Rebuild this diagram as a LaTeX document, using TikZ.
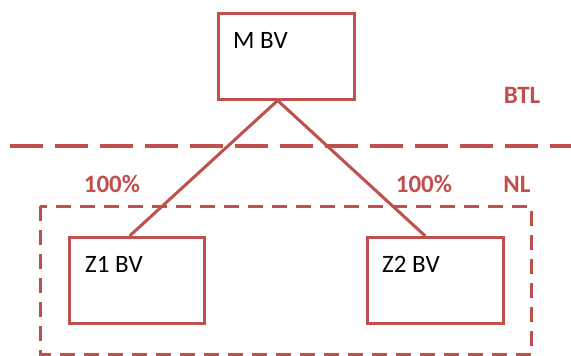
\documentclass[tikz,border=0pt]{standalone}
\usepackage{fontspec}
\setmainfont{Carlito}
\usetikzlibrary{calc}
\definecolor{accent}{HTML}{C0504D}
\tikzset{
  bvbox/.style={draw=accent, line width=3pt, rectangle, minimum width=#1, minimum height=86pt, inner sep=0pt},
  bvtext/.style={anchor=base west, inner sep=0pt, text=black, font=\fontsize{25}{30}\selectfont},
  tag/.style={inner sep=0pt, text=accent, font=\fontsize{25}{30}\selectfont\bfseries},
  link/.style={draw=accent, line width=3pt},
  layerline/.style={draw=accent, line width=3.5pt, dash pattern=on 33pt off 12pt},
  layerframe/.style={draw=accent, line width=3pt, dash pattern=on 15pt off 9pt},
}
\begin{document}
\begin{tikzpicture}[x=1pt, y=-1pt]
  \useasboundingbox (0,0) rectangle (571,356);
  \fill[white] (0,0) rectangle (571,356);

  % layer separator and inner layer frame
  \coordinate (sepL) at (10,146);
  \coordinate (sepR) at (571,146);
  \draw[layerline] (sepL) -- (sepR);
  \draw[layerframe] (40,206) -- (40,354.5) -- (531,354.5) -- (531,206) -- cycle;

  % entities
  \node[bvbox=136pt] (m) at (286,56) {};
  \node[bvbox=135pt] (z1) at (136.5,280.5) {};
  \node[bvbox=136pt] (z2) at (435,280.5) {};
  \node[bvtext] (mt) at (233,48) {M BV};
  \node[bvtext] (z1t) at (85,272) {Z1 BV};
  \node[bvtext] (z2t) at (382,272) {Z2 BV};

  % ownership links
  \coordinate (apex) at ($(m.south west)!0.44!(m.south east)$);
  \draw[link] (apex) -- ($(z1.north west)!0.45!(z1.north east)$);
  \draw[link] (apex) -- ($(z2.north west)!0.43!(z2.north east)$);

  % labels
  \node[tag] (p1) at (112,183.5) {100\%};
  \node[tag] (p2) at (424,183.5) {100\%};
  \node[tag] (btl) at (522,95.5) {BTL};
  \node[tag] (nl) at (517,184.5) {NL};
\end{tikzpicture}
\end{document}
